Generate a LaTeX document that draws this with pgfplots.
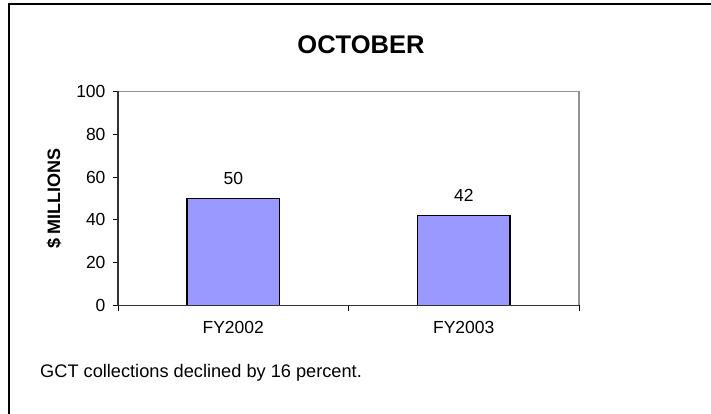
\documentclass[border=0pt]{standalone}
\usepackage{pgfplots}
\pgfplotsset{compat=1.18}
\usepackage{fontspec}
\setmainfont{Liberation Sans}
\definecolor{barfill}{HTML}{9999FF}
\begin{document}
\begin{tikzpicture}
\path[use as bounding box] (0pt,0pt) rectangle (711pt,414pt);
\draw[line width=1.2pt] (9pt,0pt) -- (9pt,410pt) -- (711pt,410pt);
\node[font=\bfseries\fontsize{25.5}{30}\selectfont] at (361pt,369pt) {OCTOBER};
\node[font=\bfseries\fontsize{18}{21}\selectfont, rotate=90] at (54pt,215.5pt) {\$ MILLIONS};
\node[anchor=base west, inner sep=0pt, font=\fontsize{18.2}{21}\selectfont] at (40pt,36pt) {GCT collections declined by 16 percent.};
\begin{axis}[
  at={(118pt,108.5pt)}, anchor=south west,
  scale only axis, width=461pt, height=214pt,
  xmin=0, xmax=2, ymin=0, ymax=100,
  ytick={0,20,40,60,80,100},
  xtick={0.5,1.5}, xticklabels={FY2002,FY2003},
  minor xtick={0,1,2},
  xtick pos=left, ytick pos=left,
  major x tick style={draw=none},
  minor x tick style={black, line width=0.8pt},
  y tick style={black, line width=0.8pt},
  tick align=outside,
  major tick length=5pt, minor tick length=6pt,
  axis line style={draw=none},
  ticklabel style={font=\fontsize{17.5}{20}\selectfont},
  yticklabel style={xshift=-4pt},
  xticklabel style={yshift=-7pt},
  /pgf/number format/assume math mode=true,
  ybar, bar width=0.4,
  nodes near coords,
  nodes near coords style={font=\fontsize{17.5}{20}\selectfont, yshift=10pt},
  clip=false,
  after end axis/.code={
    \draw[gray!85, line width=1.2pt] (rel axis cs:0,1) -- (rel axis cs:1,1) -- (rel axis cs:1,0);
    \draw[black!80, line width=1.2pt] (rel axis cs:0,1) -- (rel axis cs:0,0) -- (rel axis cs:1,0);
  },
]
\addplot[fill=barfill, draw=black, line width=1.6pt] coordinates {(0.5,50) (1.5,42)};
\end{axis}
\end{tikzpicture}
\end{document}
